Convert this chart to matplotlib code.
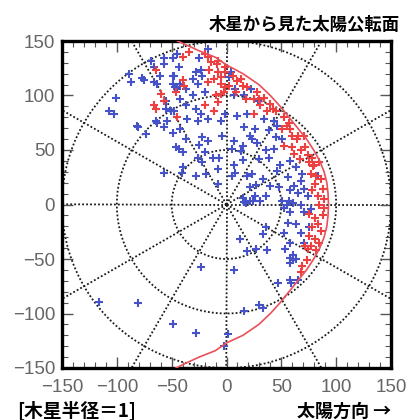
import numpy as np
import matplotlib
matplotlib.use('Agg')
from matplotlib import pyplot as plt
from matplotlib.ticker import MultipleLocator

# blue points (x, y) in Jupiter radii
blue_x = [-69, -57, -57, -89, -77, -87, -66, -61, -66, -101, -107, -103, -81, -73, -57, -55, -54, -64, -55, -63,
          -63, -51, -49, -47, -75, -82,
          -45, -49, -43, -48, -49, -42, -37, -45, -31, -28, -23, -22, -26, -20, -31, -42, -37, -28, -23, -36,
          -48, -26, -17, -5, -1, 10, 19, 16, 21, 7, -4, -17, -22, -42, -49, -37, 2, 4, 8, 7, 16, 22, -17, -25,
          29, 34, 43, 46, 39, 26, 51, 45, 23,
          -43, -40, -26, -20, -22, -7, -8, 7, 8, 5, 19, 21, -28, -19, -8, -40, 21, 16, 12, 15, 5,
          -57, -46, -41, -25, -12, 19, 18, 24, 15, 51, 55, 61, 36, 53, 58, 61, 33, 27, 15, 13,
          28, 36, 39, 30, 43, 49, 58, 63, 69, 68, 56, 62, 58, 65, 71, 74, 40, 48, 26, 36, 31, 57, 52, 68,
          58, 71, 56, 63, 68, 52, 75, 33, 71, 58, 83, 77, 46, 23,
          -116, -81, -49, -28, -23, 7, 1, -2, 16, 30, 33, 27, 37, 47, 58, 59, 65, 58, 63, 61]
blue_y = [132, 134, 129, 120, 116, 112, 112, 118, 126, 98, 86, 83, 71, 65, 71, 88, 77, 77, 95, 111,
          75, 86, 118, 108, 114, 72,
          138, 134, 126, 118, 111, 111, 106, 106, 115, 122, 123, 118, 111, 103, 100, 97, 91, 88, 83, 78,
          86, 77, 78, 77, 83, 81, 83, 71, 63, 58, 63, 58, 62, 69, 66, 60, 117, 122, 106, 100, 100, 106, 143, 134,
          95, 78, 77, 72, 68, 69, 60, 62, 60,
          51, 48, 43, 48, 39, 43, 33, 36, 29, 26, 26, 16, 26, 28, 19, 34, 3, 2, -32, 54, 51,
          29, 53, 29, 55, 43, -43, 1, 3, 6, 3, 0, 1, -21, -41, -49, -51, 23, 18, 41, 49,
          56, 50, 43, 42, 51, 36, 40, 34, 28, 22, 25, 17, 13, 11, 14, 8, 17, 16, 8, 8, 3, 3, -3, 0,
          -7, -7, -17, -18, -26, -26, -21, -27, -35, -35, 26, -4, 31, 28,
          -89, -90, -110, -118, -57, -60, -119, -130, -98, -92, -95, -41, -42, -72, -69, -72, -69, -54, -50, -46]

# red points (x, y)
red_x = [-60, -57, -66, -64, -46, -64,
         -34, -40, -20, -14, -8, -16, -8, -5, -1, -1, -17, -11, -5, -1, 2, -2, -5, -10, 10, 15, 19, -40, -39,
         -45, -8, -11, -20,
         -17, -9, 6, 13, 30, 42, 55, 9, 18,
         28, 34, 40, 45, 25, 31, 37, 52, 57, 51, 58, 65, 71, 60, 25,
         52, 60, 68, 72, 75, 80, 84, 77, 86, 81, 88, 78, 83, 89, 84, 89, 75, 81, 88, 83, 78, 86, 75, 81, 77,
         72, 84, 62, 74, 78,
         74, 82, 64, 79, 82, 67, 73, 69, 68]
red_y = [101, 95, 91, 123, 103, 88,
         140, 135, 138, 131, 132, 123, 122, 117, 122, 126, 112, 115, 111, 108, 109, 103, 101, 100, 113, 109, 108,
         114, 109, 80, 94, 86, 91,
         135, 129, 118, 115, 97, 88, 72, 103, 97,
         103, 98, 92, 86, 97, 91, 86, 80, 75, 69, 69, 63, 63, 63, 83,
         54, 53, 50, 53, 39, 36, 39, 28, 23, 19, 14, 13, 8, 5, 0, -3, -9, -12, -10, -18, -21, -24, -29, -32, -38,
         -38, -35, 46, 45, 43,
         -41, -42, 60, 35, 26, 42, -51, -56, -62]

# boundary curve, read top to bottom
curve_x = [-58, -49, -38, -25, -10, 0, 15, 29.5, 40, 49, 57, 65, 73, 79.5, 85, 89, 91.5, 92.6, 93,
           92.6, 91.5, 89, 85, 79.5, 73, 65, 57, 49, 40, 29.5, 15, 0, -10, -25, -38, -48, -56]
curve_y = [156, 152, 147, 141, 135, 128, 120, 110, 100, 90, 80, 70, 60, 50, 40, 30, 20, 10, 0,
           -10, -20, -30, -40, -50, -60, -70, -80, -90, -100, -110, -120, -127, -134, -140, -146, -151, -155]

grid_radii = [50, 100, 150]
ray_angles = np.arange(0, 360, 30)

plt.rcParams['font.family'] = ['Liberation Sans', 'DejaVu Sans']
jp = ['Noto Sans CJK JP', 'DejaVu Sans']

fig = plt.figure(figsize=(4.07, 4.20), dpi=100)
ax = fig.add_axes([62 / 407, 1 - 368 / 420, 329 / 407, 327 / 420])

grid_kw = dict(color='#1a1a1a', lw=1.3, ls=(0, (1, 1.2)), zorder=1)
t = np.linspace(0, 2 * np.pi, 400)
for r in grid_radii:
    ax.plot(r * np.cos(t), r * np.sin(t), **grid_kw)
for a in np.deg2rad(ray_angles):
    ax.plot([0, 260 * np.cos(a)], [0, 260 * np.sin(a)], **grid_kw)

ax.plot(blue_x, blue_y, '+', color='#4652c8', ms=5.5, mew=1.5, zorder=3)
ax.plot(red_x, red_y, '+', color='#ee4040', ms=5.5, mew=1.5, zorder=4)
ax.plot(curve_x, curve_y, color='#e8505a', lw=1.2, zorder=5)

ax.set_xlim(-150, 150)
ax.set_ylim(-150, 150)
ticks = [-150, -100, -50, 0, 50, 100, 150]
ax.set_xticks(ticks)
ax.set_yticks(ticks)
ax.set_xticklabels(['\u2212' + str(-v) if v < 0 else str(v) for v in ticks])
ax.set_yticklabels(['\u2212' + str(-v) if v < 0 else str(v) for v in ticks])
ax.xaxis.set_minor_locator(MultipleLocator(10))
ax.yaxis.set_minor_locator(MultipleLocator(10))
ax.tick_params(which='both', direction='in', top=True, right=True, colors='#555555', labelcolor='#666666',
               labelsize=13.5)
ax.tick_params(which='major', length=8, width=1)
ax.tick_params(which='minor', length=4, width=0.8)
ax.tick_params(axis='x', pad=8)
ax.tick_params(axis='y', pad=5)
for s in ax.spines.values():
    s.set_linewidth(2.4)
    s.set_color('black')

fig.text(400 / 407, 1 - 25 / 420, '木星から見た太陽公転面', family=jp, fontsize=12.5, fontweight='bold',
         ha='right', va='center')
fig.text(17 / 407, 1 - 411 / 420, '[木星半径＝1]', family=jp, fontsize=13.5, fontweight='bold',
         ha='left', va='center')
fig.text(391 / 407, 1 - 411 / 420, '太陽方向 →', family=jp, fontsize=13, fontweight='bold',
         ha='right', va='center')

fig.savefig('out.png', dpi=100)
